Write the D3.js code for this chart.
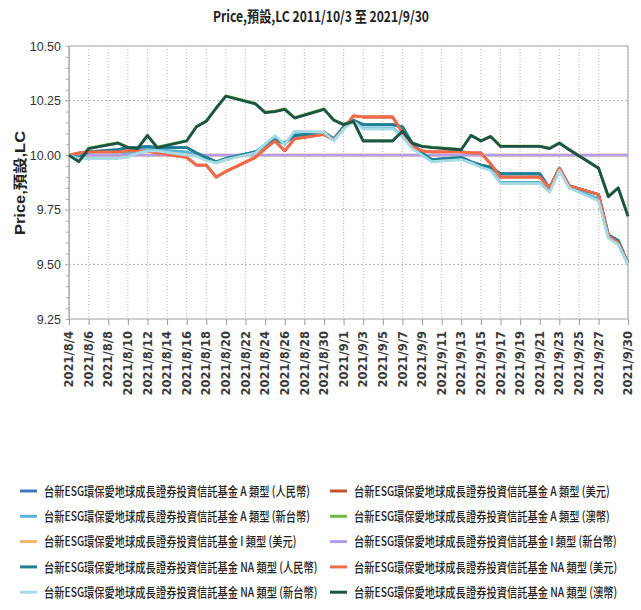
<!DOCTYPE html>
<html>
<head>
<meta charset="utf-8">
<script src="https://cdn.jsdelivr.net/npm/d3@7"></script>
<style>
  body { margin: 0; background: #fff; }
  svg { display: block; }
</style>
</head>
<body>
<div id="chart"></div>
<script>
// trading days shown on the chart
const dates = [
    "2021-08-04", "2021-08-05", "2021-08-06", "2021-08-09", "2021-08-10", "2021-08-11", "2021-08-12", "2021-08-13",
    "2021-08-16", "2021-08-17", "2021-08-18", "2021-08-19", "2021-08-20", "2021-08-23", "2021-08-24", "2021-08-25",
    "2021-08-26", "2021-08-27", "2021-08-30", "2021-08-31", "2021-09-01", "2021-09-02", "2021-09-03", "2021-09-06",
    "2021-09-07", "2021-09-08", "2021-09-09", "2021-09-10", "2021-09-13", "2021-09-14", "2021-09-15", "2021-09-16",
    "2021-09-17", "2021-09-20", "2021-09-21", "2021-09-22", "2021-09-23", "2021-09-24", "2021-09-27", "2021-09-28",
    "2021-09-29", "2021-09-30"
];

const aCny = [10.00, 9.99, 10.015, 10.025, 10.035, 10.035, 10.04, 10.035, 10.035, 10.01, 9.99, 9.97, 9.985, 10.015, 10.04, 10.07, 10.055, 10.09, 10.105, 10.075, 10.13, 10.16, 10.14, 10.14, 10.13, 10.055, 10.01, 9.98, 9.99, 9.97, 9.955, 9.945, 9.915, 9.915, 9.915, 9.85, 9.94, 9.86, 9.82, 9.635, 9.61, 9.505];
const aUsd = [10.00, 10.01, 10.015, 10.015, 10.02, 10.02, 10.02, 10.01, 9.99, 9.955, 9.955, 9.90, 9.925, 9.99, 10.03, 10.065, 10.02, 10.075, 10.095, 10.07, 10.12, 10.18, 10.175, 10.175, 10.105, 10.04, 10.02, 10.015, 10.015, 10.01, 10.01, 9.96, 9.90, 9.90, 9.90, 9.85, 9.94, 9.86, 9.82, 9.63, 9.60, 9.505];
const aTwd = [10.00, 9.99, 10.00, 10.00, 10.01, 10.02, 10.03, 10.025, 10.015, 10.00, 9.98, 9.965, 9.98, 10.015, 10.05, 10.085, 10.05, 10.105, 10.105, 10.07, 10.125, 10.155, 10.125, 10.125, 10.09, 10.035, 10.00, 9.975, 9.985, 9.965, 9.95, 9.935, 9.875, 9.875, 9.875, 9.835, 9.93, 9.855, 9.80, 9.625, 9.595, 9.50];
const aAud = [10.00, 9.972, 10.032, 10.057, 10.037, 10.032, 10.092, 10.037, 10.067, 10.132, 10.157, 10.217, 10.272, 10.237, 10.197, 10.202, 10.212, 10.172, 10.212, 10.162, 10.142, 10.157, 10.067, 10.067, 10.112, 10.057, 10.042, 10.037, 10.027, 10.092, 10.067, 10.087, 10.042, 10.042, 10.042, 10.032, 10.057, 10.027, 9.942, 9.812, 9.852, 9.722];
const iUsd = [10.00, 10.00, 10.00, 10.00, 10.00, 10.00, 10.00, 10.00, 10.00, 10.00, 10.00, 10.00, 10.00, 10.00, 10.00, 10.00, 10.00, 10.00, 10.00, 10.00, 10.00, 10.00, 10.00, 10.00, 10.00, 10.00, 10.00, 10.00, 10.00, 10.00, 10.00, 10.00, 10.00, 10.00, 10.00, 10.00, 10.00, 10.00, 10.00, 10.00, 10.00, 10.00];
const iTwd = [10.00, 10.00, 10.00, 10.00, 10.00, 10.00, 10.00, 10.00, 10.00, 10.00, 10.00, 10.00, 10.00, 10.00, 10.00, 10.00, 10.00, 10.00, 10.00, 10.00, 10.00, 10.00, 10.00, 10.00, 10.00, 10.00, 10.00, 10.00, 10.00, 10.00, 10.00, 10.00, 10.00, 10.00, 10.00, 10.00, 10.00, 10.00, 10.00, 10.00, 10.00, 10.00];
const naCny = [10.00, 9.99, 10.015, 10.025, 10.035, 10.035, 10.04, 10.035, 10.035, 10.01, 9.99, 9.97, 9.985, 10.015, 10.04, 10.07, 10.055, 10.09, 10.105, 10.075, 10.13, 10.16, 10.14, 10.14, 10.13, 10.055, 10.01, 9.98, 9.99, 9.97, 9.955, 9.945, 9.915, 9.915, 9.915, 9.85, 9.94, 9.86, 9.82, 9.635, 9.61, 9.505];
const naUsd = [10.00, 10.01, 10.015, 10.015, 10.02, 10.02, 10.02, 10.01, 9.99, 9.955, 9.955, 9.90, 9.925, 9.99, 10.03, 10.065, 10.02, 10.075, 10.095, 10.07, 10.12, 10.18, 10.175, 10.175, 10.105, 10.04, 10.02, 10.015, 10.015, 10.01, 10.01, 9.96, 9.90, 9.90, 9.90, 9.85, 9.94, 9.86, 9.82, 9.63, 9.60, 9.505];
const naTwd = [10.00, 9.985, 9.985, 9.985, 9.99, 10.01, 10.02, 10.02, 10.00, 9.995, 9.975, 9.965, 9.98, 10.01, 10.05, 10.09, 10.05, 10.11, 10.105, 10.065, 10.12, 10.155, 10.12, 10.12, 10.085, 10.03, 10.00, 9.97, 9.98, 9.965, 9.945, 9.93, 9.87, 9.87, 9.87, 9.83, 9.93, 9.85, 9.79, 9.62, 9.59, 9.50];
const naAud = [10.00, 9.97, 10.03, 10.055, 10.035, 10.03, 10.09, 10.035, 10.065, 10.13, 10.155, 10.215, 10.27, 10.235, 10.195, 10.20, 10.21, 10.17, 10.21, 10.16, 10.14, 10.155, 10.065, 10.065, 10.11, 10.055, 10.04, 10.035, 10.025, 10.09, 10.065, 10.085, 10.04, 10.04, 10.04, 10.03, 10.055, 10.025, 9.94, 9.81, 9.85, 9.72];

const seriesNames = [
    "台新ESG環保愛地球成長證券投資信託基金 A 類型 (人民幣)",
    "台新ESG環保愛地球成長證券投資信託基金 A 類型 (美元)",
    "台新ESG環保愛地球成長證券投資信託基金 A 類型 (新台幣)",
    "台新ESG環保愛地球成長證券投資信託基金 A 類型 (澳幣)",
    "台新ESG環保愛地球成長證券投資信託基金 I 類型 (美元)",
    "台新ESG環保愛地球成長證券投資信託基金 I 類型 (新台幣)",
    "台新ESG環保愛地球成長證券投資信託基金 NA 類型 (人民幣)",
    "台新ESG環保愛地球成長證券投資信託基金 NA 類型 (美元)",
    "台新ESG環保愛地球成長證券投資信託基金 NA 類型 (新台幣)",
    "台新ESG環保愛地球成長證券投資信託基金 NA 類型 (澳幣)"
];
const seriesValues = [aCny, aUsd, aTwd, aAud, iUsd, iTwd, naCny, naUsd, naTwd, naAud];

const xTickLabels = [
    "2021/8/4", "2021/8/6", "2021/8/8", "2021/8/10", "2021/8/12", "2021/8/14", "2021/8/16", "2021/8/18",
    "2021/8/20", "2021/8/22", "2021/8/24", "2021/8/26", "2021/8/28", "2021/8/30", "2021/9/1", "2021/9/3",
    "2021/9/5", "2021/9/7", "2021/9/9", "2021/9/11", "2021/9/13", "2021/9/15", "2021/9/17", "2021/9/19",
    "2021/9/21", "2021/9/23", "2021/9/25", "2021/9/27", "2021/9/30"
];
const yTicks = [9.25, 9.50, 9.75, 10.00, 10.25, 10.50];

const colors = ["#4472c4", "#c4502c", "#57b4d4", "#6fb84a", "#f4b66c", "#b49de8",
    "#1f8093", "#f26a48", "#a7dbe4", "#1e5446"];

const W = 641, H = 610;
const plot = {left: 69, right: 628, top: 46, bottom: 319};

const parseDay = d3.timeParse("%Y-%m-%d");
const parseTick = d3.timeParse("%Y/%m/%d");

const svg = d3.select("#chart")
    .append("svg")
    .attr("width", W)
    .attr("height", H);

let x = d3.scaleTime()
    .domain([parseDay(dates[0]), parseDay(dates[dates.length - 1])])
    .range([plot.left, plot.right]);
let y = d3.scaleLinear().domain([9.25, 10.5]).range([plot.bottom, plot.top]);

const xTickDates = xTickLabels.map(function (s) { return parseTick(s); });

// title
svg.append("text")
    .attr("x", 321)
    .attr("y", 22)
    .attr("text-anchor", "middle")
    .attr("textLength", 216)
    .attr("lengthAdjust", "spacingAndGlyphs")
    .style("font-family", "'Noto Sans CJK TC', 'Liberation Sans', sans-serif")
    .style("font-weight", "bold")
    .style("font-size", "15px")
    .style("fill", "#222")
    .text("Price,預設,LC 2011/10/3 至 2021/9/30");

// grid
const grid = svg.append("g").attr("class", "grid");
grid.selectAll(".vgrid")
    .data(xTickDates)
    .enter()
    .append("line")
    .attr("x1", function (d) { return x(d); })
    .attr("x2", function (d) { return x(d); })
    .attr("y1", plot.top)
    .attr("y2", plot.bottom)
    .attr("stroke", "#b5b5b5")
    .attr("stroke-width", 1)
    .attr("stroke-dasharray", "1,2");

grid.selectAll(".hgrid")
    .data(yTicks.slice(1, -1))
    .enter()
    .append("line")
    .attr("x1", plot.left - 4)
    .attr("x2", plot.right)
    .attr("y1", function (d) { return y(d); })
    .attr("y2", function (d) { return y(d); })
    .attr("stroke", "#b5b5b5")
    .attr("stroke-width", 1)
    .attr("stroke-dasharray", "2,2");

svg.append("rect")
    .attr("x", plot.left)
    .attr("y", plot.top)
    .attr("width", plot.right - plot.left)
    .attr("height", plot.bottom - plot.top)
    .attr("fill", "none")
    .attr("stroke", "#b0b0b0")
    .attr("stroke-width", 1.2);

// y axis with minor ticks
const yAxis = svg.append("g")
    .attr("transform", "translate(" + plot.left + ",0)")
    .call(d3.axisLeft(y)
        .tickValues(d3.range(9.25, 10.5001, 0.05))
        .tickSize(3)
        .tickFormat(""));
yAxis.select(".domain").attr("stroke", "#b0b0b0");
yAxis.selectAll(".tick line").attr("stroke", "#aaa");

svg.append("g")
    .selectAll("text")
    .data(yTicks)
    .enter()
    .append("text")
    .attr("x", plot.left - 8)
    .attr("y", function (d) { return y(d); })
    .attr("dy", "0.36em")
    .attr("text-anchor", "end")
    .style("font-family", "'Liberation Sans', sans-serif")
    .style("font-size", "12.5px")
    .style("fill", "#333")
    .text(function (d) { return d3.format(".2f")(d); });

// y label
svg.append("text")
    .attr("transform", "translate(25,183) rotate(-90)")
    .attr("text-anchor", "middle")
    .attr("textLength", 104)
    .attr("lengthAdjust", "spacingAndGlyphs")
    .style("font-family", "'Liberation Sans', 'Noto Sans CJK TC', sans-serif")
    .style("font-weight", "bold")
    .style("font-size", "14px")
    .style("fill", "#222")
    .text("Price,預設,LC");

// x axis
const xAxis = svg.append("g")
    .attr("transform", "translate(0," + plot.bottom + ")")
    .call(d3.axisBottom(x)
        .tickValues(xTickDates)
        .tickSize(6)
        .tickFormat(""));
xAxis.select(".domain").remove();
xAxis.selectAll(".tick line").attr("stroke", "#999");

svg.append("g")
    .selectAll("text")
    .data(xTickDates)
    .enter()
    .append("text")
    .attr("transform", function (d) { return "translate(" + x(d) + "," + (plot.bottom + 12) + ") rotate(-90)"; })
    .attr("dy", "0.36em")
    .attr("text-anchor", "end")
    .style("font-family", "'DejaVu Sans', sans-serif")
    .style("font-weight", "bold")
    .style("font-size", "11.5px")
    .style("fill", "#3a3a3a")
    .text(function (d, i) { return xTickLabels[i]; });

// lines
const valueline = d3.line()
    .x(function (d) { return x(d.key); })
    .y(function (d) { return y(d.value); });

const series = seriesValues.map(function (vals, i) {
    return {
        name: seriesNames[i],
        color: colors[i],
        values: vals.map(function (v, j) { return {key: parseDay(dates[j]), value: v}; })
    };
});

svg.append("g")
    .selectAll(".line")
    .data(series)
    .enter()
    .append("path")
    .attr("class", "line")
    .attr("d", function (d) { return valueline(d.values); })
    .attr("fill", "none")
    .attr("stroke", function (d) { return d.color; })
    .attr("stroke-width", 2.8)
    .attr("stroke-linejoin", "round");

// legend
const legend = svg.append("g");
const items = legend.selectAll(".item")
    .data(series)
    .enter()
    .append("g")
    .attr("class", "item")
    .attr("transform", function (d, i) {
        const col = i % 2, row = Math.floor(i / 2);
        return "translate(" + (col === 0 ? 20 : 330) + "," + (491 + row * 25.3) + ")";
    });

items.append("line")
    .attr("x1", 0)
    .attr("x2", 17)
    .attr("y1", 0)
    .attr("y2", 0)
    .attr("stroke", function (d) { return d.color; })
    .attr("stroke-width", 3);

const legendText = items.append("text")
    .attr("x", 0)
    .attr("y", 0)
    .attr("dy", "0.36em")
    .style("font-family", "'Noto Sans CJK TC', sans-serif")
    .style("font-weight", "500")
    .style("font-size", "13px")
    .style("fill", "#222")
    .text(function (d) { return d.name; });

// squeeze legend text to the narrow look of the original
const natural = legendText.node().getComputedTextLength();
const sx = 266 / natural;
legendText.attr("transform", "translate(24,0) scale(" + sx + ",1)");
</script>
</body>
</html>
